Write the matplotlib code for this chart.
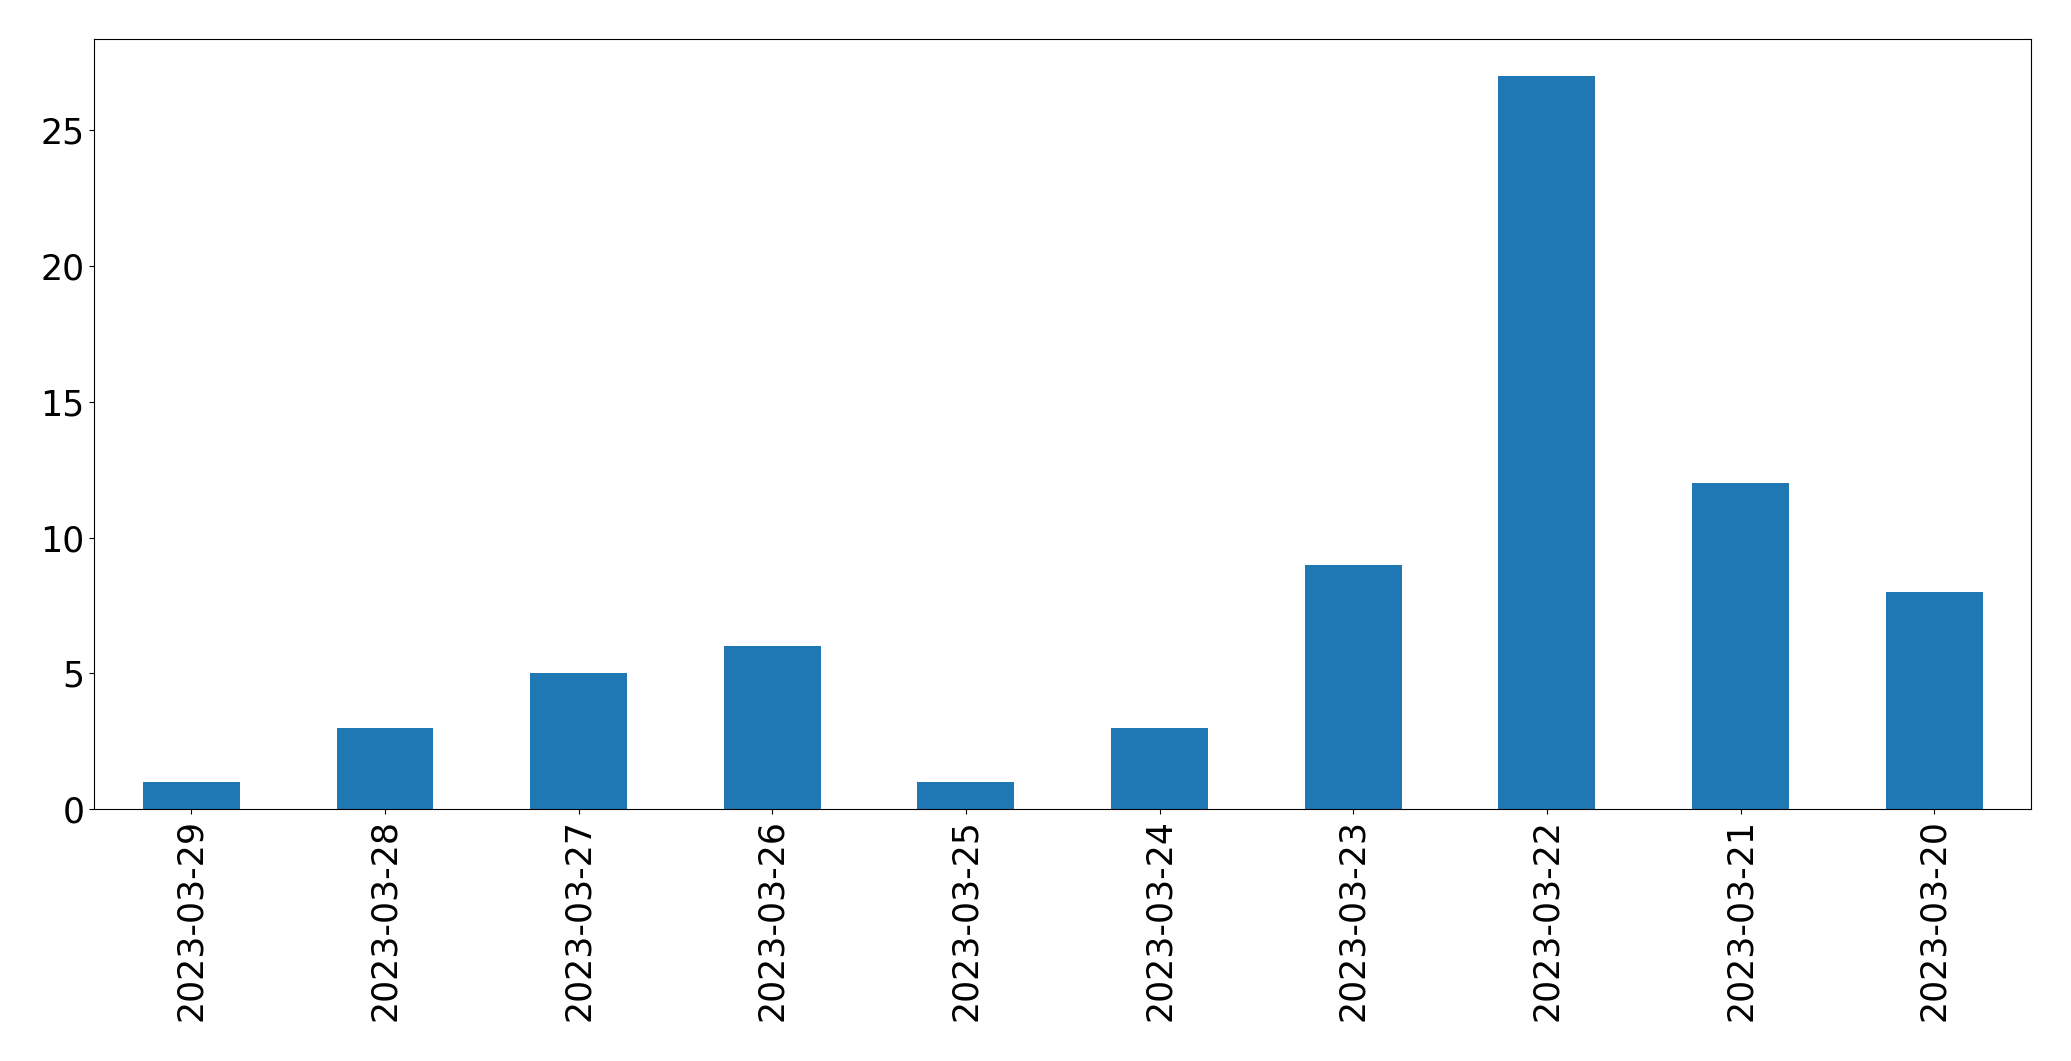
import numpy as np
import matplotlib.pyplot as plt

dates = ['2023-03-29', '2023-03-28', '2023-03-27', '2023-03-26', '2023-03-25',
         '2023-03-24', '2023-03-23', '2023-03-22', '2023-03-21', '2023-03-20']
counts = [1, 3, 5, 6, 1, 3, 9, 27, 12, 8]

fig, ax = plt.subplots(figsize=(20.71, 10.61), dpi=100)
fig.subplots_adjust(left=0.0456, right=0.9807, top=0.9628, bottom=0.2375)

x = np.arange(len(dates))
ax.bar(x, counts, width=0.5, color='#1f77b4')
ax.set_xlim(-0.5, len(dates) - 0.5)
ax.set_xticks(x)
ax.set_xticklabels(dates, rotation=90)
ax.tick_params(labelsize=25)

fig.savefig('out.png', dpi=100)
